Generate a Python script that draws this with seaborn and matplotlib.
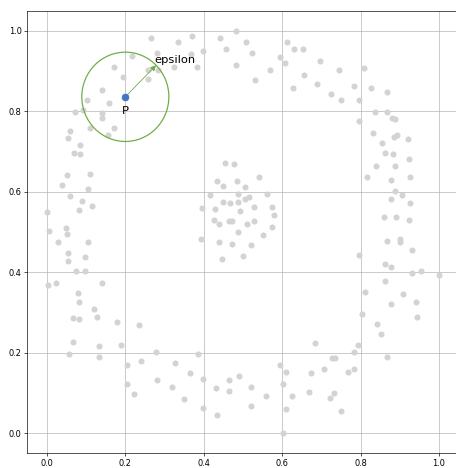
import matplotlib
matplotlib.use("Agg")
import matplotlib.pyplot as plt
import seaborn as sns
import pandas as pd
from matplotlib.patches import Circle

# points: outer ring and inner ring
outer_x = [0.266, 0.281, 0.217, 0.171, 0.258, 0.259, 0.195, 0.284, 0.140, 0.103,
           0.158, 0.072, 0.093, 0.140, 0.140, 0.171, 0.111, 0.155, 0.058, 0.055,
           0.085, 0.070, 0.085, 0.052, 0.109, 0.038, 0.106, 0.058, 0.089, 0.115,
           0.082, 0.000, 0.048, 0.006, 0.050, 0.027, 0.106, 0.055, 0.098, 0.054,
           0.073, 0.098, 0.003, 0.024, 0.140, 0.078, 0.081, 0.121, 0.127, 0.066,
           0.082, 0.180, 0.235, 0.066, 0.132, 0.189, 0.057, 0.134, 0.204, 0.239,
           0.278, 0.327, 0.204, 0.223, 0.281, 0.318, 0.385, 0.364, 0.350, 0.398,
           0.398, 0.431, 0.435, 0.465, 0.465, 0.490, 0.521, 0.521, 0.560, 0.594,
           0.610, 0.602, 0.625, 0.610, 0.602, 0.673, 0.668, 0.684, 0.727, 0.734,
           0.707, 0.722, 0.732, 0.750, 0.769, 0.783, 0.783, 0.794, 0.852, 0.868,
           0.868, 0.901, 0.901, 0.931, 0.797, 0.862, 0.877, 0.931, 0.955, 0.999,
           0.863, 0.811, 0.909, 0.877, 0.941, 0.803, 0.943, 0.843, 0.797, 0.881,
           0.888, 0.831, 0.884, 0.892, 0.920, 0.855, 0.863, 0.883, 0.923, 0.839,
           0.889, 0.817, 0.877, 0.926, 0.888, 0.906, 0.877, 0.926, 0.860, 0.891,
           0.924, 0.697, 0.745, 0.809, 0.689, 0.784, 0.826, 0.868, 0.725, 0.751,
           0.797, 0.837, 0.868, 0.324, 0.335, 0.370, 0.368, 0.384, 0.399, 0.441,
           0.483, 0.456, 0.508, 0.524, 0.481, 0.530, 0.570, 0.594, 0.607, 0.613,
           0.631, 0.653, 0.656, 0.628]
outer_y = [0.982, 0.945, 0.938, 0.911, 0.902, 0.881, 0.885, 0.902, 0.852, 0.827,
           0.820, 0.799, 0.804, 0.797, 0.784, 0.758, 0.758, 0.741, 0.750, 0.734,
           0.717, 0.697, 0.695, 0.642, 0.645, 0.618, 0.607, 0.589, 0.577, 0.565,
           0.555, 0.549, 0.510, 0.503, 0.495, 0.476, 0.474, 0.449, 0.437, 0.428,
           0.402, 0.402, 0.369, 0.374, 0.374, 0.349, 0.325, 0.309, 0.290, 0.287,
           0.283, 0.277, 0.269, 0.226, 0.216, 0.219, 0.197, 0.190, 0.170, 0.180,
           0.203, 0.175, 0.123, 0.097, 0.131, 0.114, 0.197, 0.149, 0.085, 0.134,
           0.062, 0.112, 0.044, 0.131, 0.106, 0.141, 0.114, 0.068, 0.093, 0.170,
           0.153, 0.123, 0.093, 0.059, 0.000, 0.149, 0.103, 0.224, 0.188, 0.188,
           0.159, 0.088, 0.099, 0.055, 0.153, 0.159, 0.203, 0.219, 0.246, 0.190,
           0.477, 0.483, 0.476, 0.456, 0.443, 0.420, 0.412, 0.399, 0.402, 0.393,
           0.378, 0.352, 0.346, 0.321, 0.327, 0.296, 0.290, 0.272, 0.776, 0.783,
           0.781, 0.746, 0.735, 0.740, 0.732, 0.722, 0.697, 0.693, 0.681, 0.665,
           0.665, 0.636, 0.630, 0.636, 0.602, 0.592, 0.583, 0.572, 0.537, 0.537,
           0.530, 0.926, 0.902, 0.908, 0.868, 0.864, 0.858, 0.847, 0.843, 0.827,
           0.829, 0.799, 0.799, 0.911, 0.973, 0.986, 0.943, 0.911, 0.951, 0.983,
           1.000, 0.954, 0.973, 0.945, 0.915, 0.879, 0.902, 0.935, 0.920, 0.973,
           0.954, 0.954, 0.891, 0.858]

inner_x = [0.453, 0.478, 0.542, 0.434, 0.450, 0.484, 0.505, 0.415, 0.487, 0.505,
           0.516, 0.562, 0.395, 0.428, 0.450, 0.468, 0.488, 0.493, 0.527, 0.573,
           0.579, 0.426, 0.439, 0.465, 0.471, 0.511, 0.529, 0.573, 0.487, 0.550,
           0.393, 0.438, 0.473, 0.520, 0.447, 0.500]
inner_y = [0.671, 0.669, 0.636, 0.626, 0.615, 0.627, 0.612, 0.592, 0.595, 0.583,
           0.587, 0.595, 0.559, 0.556, 0.574, 0.572, 0.574, 0.553, 0.563, 0.563,
           0.543, 0.530, 0.520, 0.528, 0.528, 0.521, 0.527, 0.513, 0.499, 0.493,
           0.483, 0.476, 0.471, 0.467, 0.432, 0.440]

p_x, p_y = 0.2, 0.836
eps = 0.111
green = "#70ad47"
blue = "#4472c4"

df = pd.DataFrame({"x": outer_x + inner_x, "y": outer_y + inner_y})

# small dpi so default sizes match the scaled-down screenshot
fig = plt.figure(figsize=(456 / 59, 468 / 59), dpi=59)
ax = fig.add_axes([0.0599, 0.0314, 0.9458, 0.9457])

sns.scatterplot(data=df, x="x", y="y", color="lightgray", s=55, linewidth=0, ax=ax)
ax.scatter([p_x], [p_y], color=blue, s=67, zorder=4)

ax.add_patch(Circle((p_x, p_y), eps, fill=False, edgecolor=green, lw=1.5, zorder=3))
ax.annotate("", xy=(p_x + eps * 0.707, p_y + eps * 0.707), xytext=(p_x, p_y),
            arrowprops=dict(arrowstyle="-|>", color=green, lw=1, mutation_scale=14,
                            shrinkA=0, shrinkB=0), zorder=3)
ax.text(0.274, 0.920, "epsilon", fontsize=14, ha="left", va="baseline")
ax.text(p_x, 0.794, "P", fontsize=14, ha="center", va="baseline")

ax.set_xlim(-0.05, 1.05)
ax.set_ylim(-0.05, 1.05)
ax.set_xticks([0.0, 0.2, 0.4, 0.6, 0.8, 1.0])
ax.set_yticks([0.0, 0.2, 0.4, 0.6, 0.8, 1.0])
ax.set_xlabel("")
ax.set_ylabel("")
ax.grid(True)
ax.set_axisbelow(True)

fig.savefig("out.png", dpi=59)
